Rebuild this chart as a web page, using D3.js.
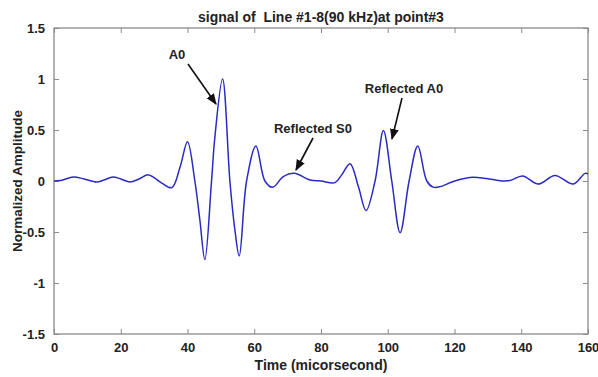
<!DOCTYPE html>
<html><head><meta charset="utf-8">
<script src="https://cdn.jsdelivr.net/npm/d3@7"></script>
<style>body{margin:0;background:#fff}svg{display:block;font-family:"Liberation Sans",Arial,sans-serif}text{white-space:pre}</style>
</head><body><svg id="c" width="598" height="377"></svg>
<script>
const times = [0,2,5.8,9,12.8,15,17.6,20,22.8,25.5,28.3,32.3,35.3,37.8,40.0,42.2,43.7,45.2,47.2,48.2,50.5,52.7,54.2,55.5,57.7,60.5,63.2,65.5,68.7,72.0,76.7,80,84.2,86.2,88.7,91.2,93.5,96.2,98.7,101.2,103.7,106.4,109.0,111.7,113.6,115.7,119.6,124.6,129.6,133.6,136.6,140.4,145.1,150.1,155.6,159.1,160];
const amps  = [0,0.005,0.04,0.02,-0.01,0.01,0.04,0.02,-0.01,0.02,0.06,-0.02,-0.065,0.14,0.385,0.0,-0.38,-0.77,0.0,0.43,1.0,0.0,-0.48,-0.735,0.0,0.343,0.0,-0.062,0.042,0.075,0.01,0.0,-0.016,0.06,0.17,-0.055,-0.29,0.0,0.495,0.0,-0.507,0.0,0.343,0.0,-0.06,-0.055,-0.005,0.035,0.025,0.003,0.005,0.05,-0.03,0.055,-0.03,0.075,0.07];
const xTicks = [0,20,40,60,80,100,120,140,160];
const yTicks = [-1.5,-1,-0.5,0,0.5,1,1.5];
const titleText = "signal of  Line #1-8(90 kHz)at point#3";
const xLabel = "Time (micorsecond)";
const yLabel = "Normalized Amplitude";
const notes = [
  {text:"A0", tx:177, ty:59, x1:188, y1:64, x2:216, y2:104},
  {text:"Reflected S0", tx:313, ty:133, x1:313, y1:138, x2:296, y2:170},
  {text:"Reflected A0", tx:404, ty:93, x1:402, y1:98, x2:392, y2:139}
];

const L=54,R=588,T=28,B=334;
const svg=d3.select("#c");
const x=d3.scaleLinear().domain([0,160]).range([L,R]);
const y=d3.scaleLinear().domain([-1.5,1.5]).range([B,T]);
const axCol="#8a8a8a", txtCol="#222";

svg.append("defs").append("marker").attr("id","ah").attr("viewBox","0 0 10 10")
 .attr("refX",9).attr("refY",5).attr("markerWidth",7).attr("markerHeight",7).attr("orient","auto")
 .append("path").attr("d","M0,1 L10,5 L0,9 Z").attr("fill","#111");

function styleAxis(g){g.select(".domain").remove();g.selectAll("line").attr("stroke",axCol);
 g.selectAll("text").attr("fill",txtCol).attr("font-size",13).attr("font-weight","bold");}
svg.append("g").attr("transform",`translate(0,${B})`).call(d3.axisBottom(x).tickValues(xTicks).tickSizeInner(-5).tickSizeOuter(0).tickPadding(9).tickFormat(d3.format("d"))).call(styleAxis);
svg.append("g").attr("transform",`translate(0,${T})`).call(d3.axisTop(x).tickValues(xTicks).tickSizeInner(-5).tickSizeOuter(0).tickFormat("")).call(styleAxis);
svg.append("g").attr("transform",`translate(${L},0)`).call(d3.axisLeft(y).tickValues(yTicks).tickSizeInner(-5).tickSizeOuter(0).tickPadding(9).tickFormat(d=>String(d))).call(styleAxis);
svg.append("g").attr("transform",`translate(${R},0)`).call(d3.axisRight(y).tickValues(yTicks).tickSizeInner(-5).tickSizeOuter(0).tickFormat("")).call(styleAxis);
svg.append("rect").attr("x",L).attr("y",T).attr("width",R-L).attr("height",B-T).attr("fill","none").attr("stroke",axCol).attr("stroke-width",1.3);

const data=times.map((t,i)=>[t,amps[i]]);
svg.append("path").datum(data).attr("fill","none").attr("stroke","#2a2ac4").attr("stroke-width",1.5)
 .attr("d",d3.line().x(d=>x(d[0])).y(d=>y(d[1])).curve(d3.curveCatmullRom.alpha(0.5)));

svg.append("text").attr("x",(L+R)/2).attr("y",22).attr("text-anchor","middle").attr("font-size",14).attr("font-weight","bold").attr("fill",txtCol).text(titleText);
svg.append("text").attr("x",(L+R)/2).attr("y",370).attr("text-anchor","middle").attr("font-size",14).attr("font-weight","bold").attr("fill",txtCol).text(xLabel);
svg.append("text").attr("transform",`translate(22,${(T+B)/2}) rotate(-90)`).attr("text-anchor","middle").attr("font-size",13.5).attr("font-weight","bold").attr("fill",txtCol).text(yLabel);

notes.forEach(n=>{
 svg.append("text").attr("x",n.tx).attr("y",n.ty).attr("text-anchor","middle").attr("font-size",13).attr("font-weight","bold").attr("fill",txtCol).text(n.text);
 svg.append("line").attr("x1",n.x1).attr("y1",n.y1).attr("x2",n.x2).attr("y2",n.y2).attr("stroke","#111").attr("stroke-width",1.6).attr("marker-end","url(#ah)");
});
</script></body></html>
